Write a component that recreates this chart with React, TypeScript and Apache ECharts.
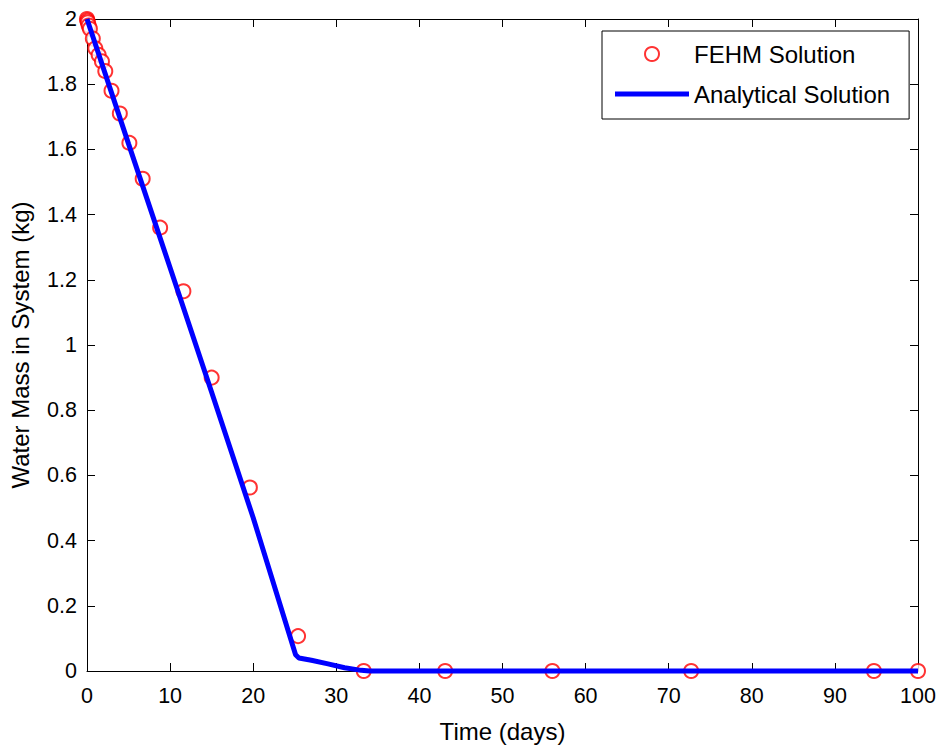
import React, { useEffect, useRef } from "react";
import * as echarts from "echarts";

const fehmDays = [0, 0.05, 0.1, 0.2, 0.35, 0.7, 1.0, 1.4, 1.8, 2.2, 2.95, 3.95, 5.1, 6.7, 8.8, 11.6, 15.0, 19.6, 25.4, 33.3, 43.1, 56.0, 72.7, 94.7, 100];
const fehmMass = [2.0, 1.995, 1.99, 1.98, 1.97, 1.94, 1.91, 1.89, 1.87, 1.84, 1.78, 1.71, 1.62, 1.51, 1.36, 1.165, 0.9, 0.563, 0.107, 0, 0, 0, 0, 0, 0];

const analyticalDays = [0, 5, 10, 15, 20, 25.1, 25.5, 27, 29, 31, 33, 34, 100];
const analyticalMass = [2.0, 1.617, 1.237, 0.855, 0.47, 0.05, 0.04, 0.033, 0.022, 0.01, 0.002, 0, 0];

const seriesNames = ["FEHM Solution", "Analytical Solution"];
const xAxisTitle = "Time (days)";
const yAxisTitle = "Water Mass in System (kg)";

const FONT = "'Liberation Sans', Arial, Helvetica, sans-serif";

export default function App() {
  const ref = useRef<HTMLDivElement>(null);

  useEffect(() => {
    if (!ref.current) return;
    const chart = echarts.init(ref.current, undefined, { renderer: "svg" });

    const axisCommon = {
      type: "value" as const,
      axisLine: { show: true, onZero: false, lineStyle: { color: "#000", width: 1 } },
      axisTick: { show: true, inside: true, length: 8, lineStyle: { color: "#000", width: 1 } },
      splitLine: { show: false },
    };

    const labelStyle = { color: "#000", fontSize: 21.5, fontFamily: FONT };

    chart.setOption({
      animation: false,
      backgroundColor: "#fff",
      grid: { left: 87, right: 21, top: 19, bottom: 73, containLabel: false },
      xAxis: [
        {
          ...axisCommon,
          position: "bottom",
          min: 0,
          max: 100,
          interval: 10,
          axisLabel: { ...labelStyle, margin: 14 },
          name: xAxisTitle,
          nameLocation: "middle",
          nameGap: 48,
          nameTextStyle: { color: "#000", fontSize: 24, fontFamily: FONT },
        },
        {
          ...axisCommon,
          position: "top",
          min: 0,
          max: 100,
          interval: 10,
          axisLabel: { show: false },
        },
      ],
      yAxis: [
        {
          ...axisCommon,
          position: "left",
          min: 0,
          max: 2,
          interval: 0.2,
          axisLabel: { ...labelStyle, margin: 10 },
          name: yAxisTitle,
          nameLocation: "middle",
          nameGap: 55,
          nameRotate: 90,
          nameTextStyle: { color: "#000", fontSize: 24, fontFamily: FONT },
        },
        {
          ...axisCommon,
          position: "right",
          min: 0,
          max: 2,
          interval: 0.2,
          axisLabel: { show: false },
        },
      ],
      legend: {
        orient: "vertical",
        left: 602,
        top: 31,
        align: "left",
        padding: [10, 19, 12, 13],
        itemWidth: 74,
        itemHeight: 14,
        itemGap: 14,
        borderColor: "#000",
        borderWidth: 1,
        backgroundColor: "#fff",
        textStyle: { color: "#000", fontSize: 24, lineHeight: 26, fontFamily: FONT },
        data: [
          { name: seriesNames[0], icon: "emptyCircle" },
          {
            name: seriesNames[1],
            icon: "path://M0,0L74,0L74,5L0,5Z",
            itemStyle: { color: "#0000ff", borderWidth: 0 },
          },
        ],
      },
      series: [
        {
          name: seriesNames[0],
          type: "scatter",
          xAxisIndex: 0,
          yAxisIndex: 0,
          symbol: "emptyCircle",
          symbolSize: 14,
          clip: false,
          itemStyle: { color: "#ff0000", borderColor: "#ff0000", borderWidth: 1.2 },
          data: fehmDays.map((d, i) => [d, fehmMass[i]]),
          z: 2,
        },
        {
          name: seriesNames[1],
          type: "line",
          xAxisIndex: 0,
          yAxisIndex: 0,
          symbol: "none",
          showSymbol: false,
          clip: false,
          lineStyle: { color: "#0000ff", width: 5 },
          itemStyle: { color: "#0000ff" },
          data: analyticalDays.map((d, i) => [d, analyticalMass[i]]),
          z: 3,
        },
      ],
    });

    return () => chart.dispose();
  }, []);

  return (
    <div
      ref={ref}
      style={{ position: "absolute", left: 0, top: 0, width: 939, height: 748, background: "#fff" }}
    />
  );
}
